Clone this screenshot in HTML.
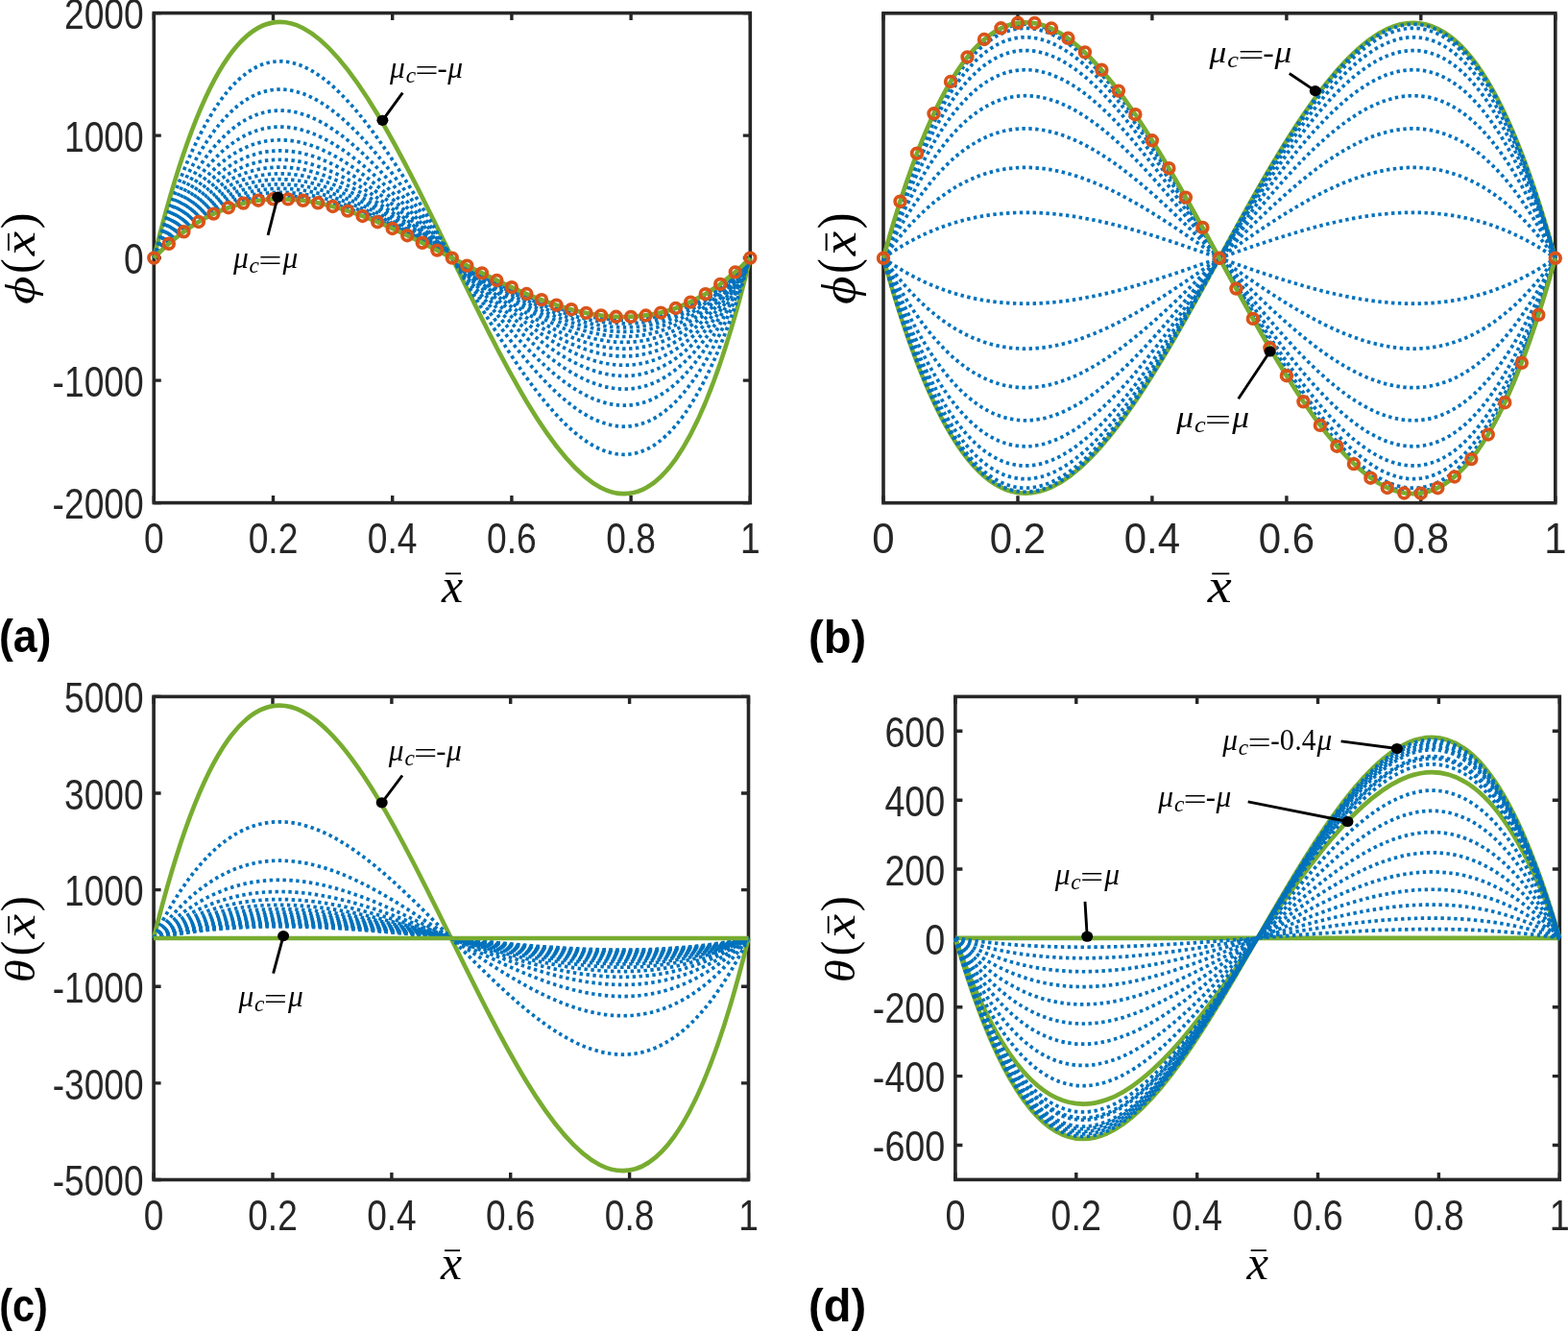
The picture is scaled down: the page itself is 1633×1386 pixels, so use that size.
<!DOCTYPE html>
<html><head><meta charset="utf-8"><title>Figure</title>
<style>
html,body{margin:0;padding:0;background:#fff;overflow:hidden}
svg{display:block}
.tk{font-family:"Liberation Sans",Arial,sans-serif;font-size:43.5px;fill:#262626}
.mx{font-family:"Liberation Serif",serif;font-style:italic;font-size:50px;fill:#000}
.ml{font-family:"Liberation Serif",serif;fill:#000}
.an{font-family:"Liberation Serif",serif;fill:#000}
.pl{font-family:"Liberation Sans",Arial,sans-serif;font-weight:bold;font-size:47.5px;fill:#000}
</style></head><body>
<svg width="1633" height="1386" viewBox="0 0 1633 1386">
<rect width="1633" height="1386" fill="#fff"/>
<path d="M160.3,523.6v-7.5M160.3,13.6v7.5M284.5,523.6v-7.5M284.5,13.6v7.5M408.7,523.6v-7.5M408.7,13.6v7.5M532.9,523.6v-7.5M532.9,13.6v7.5M657.1,523.6v-7.5M657.1,13.6v7.5M781.3,523.6v-7.5M781.3,13.6v7.5M160.3,523.6h7.5M781.3,523.6h-7.5M160.3,396.1h7.5M781.3,396.1h-7.5M160.3,268.6h7.5M781.3,268.6h-7.5M160.3,141.1h7.5M781.3,141.1h-7.5M160.3,13.6h7.5M781.3,13.6h-7.5" stroke="#262626" stroke-width="3.4" fill="none"/>
<rect x="160.3" y="13.6" width="621.0" height="510.0" fill="none" stroke="#262626" stroke-width="3.6"/>
<g fill="none" stroke="#77AC30" stroke-width="4.6">
<path d="M160.30,268.60C367.30,-582.50 574.30,1119.70 781.30,268.60" />
</g>
<g fill="none" stroke="#0072BD" stroke-width="3.7" stroke-dasharray="3.4 3.5">
<path d="M160.30,268.60C367.30,-440.65 574.30,977.85 781.30,268.60" />
<path d="M160.30,268.60C367.30,-339.33 574.30,876.53 781.30,268.60" />
<path d="M160.30,268.60C367.30,-263.34 574.30,800.54 781.30,268.60" />
<path d="M160.30,268.60C367.30,-204.24 574.30,741.44 781.30,268.60" />
<path d="M160.30,268.60C367.30,-156.95 574.30,694.15 781.30,268.60" />
<path d="M160.30,268.60C367.30,-118.27 574.30,655.47 781.30,268.60" />
<path d="M160.30,268.60C367.30,-86.03 574.30,623.23 781.30,268.60" />
<path d="M160.30,268.60C367.30,-58.75 574.30,595.95 781.30,268.60" />
<path d="M160.30,268.60C367.30,-35.37 574.30,572.57 781.30,268.60" />
<path d="M160.30,268.60C367.30,-15.10 574.30,552.30 781.30,268.60" />
<path d="M160.30,268.60C367.30,2.63 574.30,534.57 781.30,268.60" />
<path d="M160.30,268.60C367.30,18.28 574.30,518.92 781.30,268.60" />
<path d="M160.30,268.60C367.30,32.18 574.30,505.02 781.30,268.60" />
<path d="M160.30,268.60C367.30,44.63 574.30,492.57 781.30,268.60" />
</g>
<g fill="none" stroke="#77AC30" stroke-width="4.6">
<path d="M160.30,268.60C367.30,55.82 574.30,481.38 781.30,268.60" />
</g>
<g fill="none" stroke="#D95319" stroke-width="3.8">
<circle cx="160.3" cy="268.6" r="5.3"/>
<circle cx="175.8" cy="253.8" r="5.3"/>
<circle cx="191.4" cy="241.3" r="5.3"/>
<circle cx="206.9" cy="231.0" r="5.3"/>
<circle cx="222.4" cy="222.6" r="5.3"/>
<circle cx="237.9" cy="216.2" r="5.3"/>
<circle cx="253.4" cy="211.6" r="5.3"/>
<circle cx="269.0" cy="208.7" r="5.3"/>
<circle cx="284.5" cy="207.3" r="5.3"/>
<circle cx="300.0" cy="207.4" r="5.3"/>
<circle cx="315.6" cy="208.8" r="5.3"/>
<circle cx="331.1" cy="211.3" r="5.3"/>
<circle cx="346.6" cy="215.0" r="5.3"/>
<circle cx="362.1" cy="219.6" r="5.3"/>
<circle cx="377.6" cy="225.0" r="5.3"/>
<circle cx="393.2" cy="231.2" r="5.3"/>
<circle cx="408.7" cy="238.0" r="5.3"/>
<circle cx="424.2" cy="245.2" r="5.3"/>
<circle cx="439.8" cy="252.8" r="5.3"/>
<circle cx="455.3" cy="260.6" r="5.3"/>
<circle cx="470.8" cy="268.6" r="5.3"/>
<circle cx="486.3" cy="276.6" r="5.3"/>
<circle cx="501.9" cy="284.4" r="5.3"/>
<circle cx="517.4" cy="292.0" r="5.3"/>
<circle cx="532.9" cy="299.2" r="5.3"/>
<circle cx="548.4" cy="306.0" r="5.3"/>
<circle cx="564.0" cy="312.2" r="5.3"/>
<circle cx="579.5" cy="317.6" r="5.3"/>
<circle cx="595.0" cy="322.2" r="5.3"/>
<circle cx="610.5" cy="325.9" r="5.3"/>
<circle cx="626.0" cy="328.4" r="5.3"/>
<circle cx="641.6" cy="329.8" r="5.3"/>
<circle cx="657.1" cy="329.9" r="5.3"/>
<circle cx="672.6" cy="328.5" r="5.3"/>
<circle cx="688.2" cy="325.6" r="5.3"/>
<circle cx="703.7" cy="321.0" r="5.3"/>
<circle cx="719.2" cy="314.6" r="5.3"/>
<circle cx="734.7" cy="306.2" r="5.3"/>
<circle cx="750.2" cy="295.9" r="5.3"/>
<circle cx="765.8" cy="283.4" r="5.3"/>
<circle cx="781.3" cy="268.6" r="5.3"/>
</g>
<text class="tk" text-anchor="middle" transform="translate(160.3,575.8) scale(0.855,1)">0</text>
<text class="tk" text-anchor="middle" transform="translate(284.5,575.8) scale(0.855,1)">0.2</text>
<text class="tk" text-anchor="middle" transform="translate(408.7,575.8) scale(0.855,1)">0.4</text>
<text class="tk" text-anchor="middle" transform="translate(532.9,575.8) scale(0.855,1)">0.6</text>
<text class="tk" text-anchor="middle" transform="translate(657.1,575.8) scale(0.855,1)">0.8</text>
<text class="tk" text-anchor="middle" transform="translate(781.3,575.8) scale(0.855,1)">1</text>
<text class="tk" text-anchor="end" transform="translate(149.7,540.2) scale(0.855,1)">-2000</text>
<text class="tk" text-anchor="end" transform="translate(149.7,412.7) scale(0.855,1)">-1000</text>
<text class="tk" text-anchor="end" transform="translate(149.7,285.2) scale(0.855,1)">0</text>
<text class="tk" text-anchor="end" transform="translate(149.7,157.7) scale(0.855,1)">1000</text>
<text class="tk" text-anchor="end" transform="translate(149.7,30.2) scale(0.855,1)">2000</text>
<text class="mx" transform="translate(460.0,627.0) scale(1.000,1)">x</text>
<line x1="464.0" x2="480.0" y1="597.3" y2="597.3" stroke="#000" stroke-width="1.8"/>
<path d="M920.0,523.7v-7.5M920.0,13.8v7.5M1060.0,523.7v-7.5M1060.0,13.8v7.5M1199.9,523.7v-7.5M1199.9,13.8v7.5M1339.9,523.7v-7.5M1339.9,13.8v7.5M1479.8,523.7v-7.5M1479.8,13.8v7.5M1619.8,523.7v-7.5M1619.8,13.8v7.5" stroke="#262626" stroke-width="3.4" fill="none"/>
<rect x="920.0" y="13.8" width="699.8" height="509.9" fill="none" stroke="#262626" stroke-width="3.6"/>
<g fill="none" stroke="#77AC30" stroke-width="4.6">
<path d="M920.00,268.75C1153.27,1117.48 1386.53,-579.98 1619.80,268.75" />
</g>
<g fill="none" stroke="#0072BD" stroke-width="3.7" stroke-dasharray="3.4 3.5">
<path d="M920.00,268.75C1153.27,104.48 1386.53,433.02 1619.80,268.75" />
<path d="M920.00,268.75C1153.27,-58.02 1386.53,595.52 1619.80,268.75" />
<path d="M920.00,268.75C1153.27,-198.45 1386.53,735.95 1619.80,268.75" />
<path d="M920.00,268.75C1153.27,-316.79 1386.53,854.29 1619.80,268.75" />
<path d="M920.00,268.75C1153.27,-410.41 1386.53,947.91 1619.80,268.75" />
<path d="M920.00,268.75C1153.27,-480.18 1386.53,1017.68 1619.80,268.75" />
<path d="M920.00,268.75C1153.27,-527.87 1386.53,1065.37 1619.80,268.75" />
<path d="M920.00,268.75C1153.27,-560.55 1386.53,1098.05 1619.80,268.75" />
<path d="M920.00,268.75C1153.27,-574.68 1386.53,1112.18 1619.80,268.75" />
<path d="M920.00,268.75C1153.27,433.02 1386.53,104.48 1619.80,268.75" />
<path d="M920.00,268.75C1153.27,595.52 1386.53,-58.02 1619.80,268.75" />
<path d="M920.00,268.75C1153.27,735.95 1386.53,-198.45 1619.80,268.75" />
<path d="M920.00,268.75C1153.27,854.29 1386.53,-316.79 1619.80,268.75" />
<path d="M920.00,268.75C1153.27,947.91 1386.53,-410.41 1619.80,268.75" />
<path d="M920.00,268.75C1153.27,1017.68 1386.53,-480.18 1619.80,268.75" />
<path d="M920.00,268.75C1153.27,1065.37 1386.53,-527.87 1619.80,268.75" />
<path d="M920.00,268.75C1153.27,1098.05 1386.53,-560.55 1619.80,268.75" />
<path d="M920.00,268.75C1153.27,1112.18 1386.53,-574.68 1619.80,268.75" />
</g>
<g fill="none" stroke="#77AC30" stroke-width="4.6">
<path d="M920.00,268.75C1153.27,-581.75 1386.53,1119.25 1619.80,268.75" />
</g>
<g fill="none" stroke="#D95319" stroke-width="3.8">
<circle cx="920.0" cy="268.8" r="5.3"/>
<circle cx="937.5" cy="209.7" r="5.3"/>
<circle cx="955.0" cy="159.7" r="5.3"/>
<circle cx="972.5" cy="118.3" r="5.3"/>
<circle cx="990.0" cy="85.0" r="5.3"/>
<circle cx="1007.5" cy="59.4" r="5.3"/>
<circle cx="1025.0" cy="41.0" r="5.3"/>
<circle cx="1042.5" cy="29.3" r="5.3"/>
<circle cx="1060.0" cy="23.8" r="5.3"/>
<circle cx="1077.5" cy="24.0" r="5.3"/>
<circle cx="1095.0" cy="29.5" r="5.3"/>
<circle cx="1112.4" cy="39.8" r="5.3"/>
<circle cx="1129.9" cy="54.4" r="5.3"/>
<circle cx="1147.4" cy="72.8" r="5.3"/>
<circle cx="1164.9" cy="94.6" r="5.3"/>
<circle cx="1182.4" cy="119.2" r="5.3"/>
<circle cx="1199.9" cy="146.3" r="5.3"/>
<circle cx="1217.4" cy="175.2" r="5.3"/>
<circle cx="1234.9" cy="205.6" r="5.3"/>
<circle cx="1252.4" cy="236.9" r="5.3"/>
<circle cx="1269.9" cy="268.8" r="5.3"/>
<circle cx="1287.4" cy="300.6" r="5.3"/>
<circle cx="1304.9" cy="331.9" r="5.3"/>
<circle cx="1322.4" cy="362.3" r="5.3"/>
<circle cx="1339.9" cy="391.2" r="5.3"/>
<circle cx="1357.4" cy="418.3" r="5.3"/>
<circle cx="1374.9" cy="442.9" r="5.3"/>
<circle cx="1392.4" cy="464.7" r="5.3"/>
<circle cx="1409.9" cy="483.1" r="5.3"/>
<circle cx="1427.4" cy="497.7" r="5.3"/>
<circle cx="1444.8" cy="508.0" r="5.3"/>
<circle cx="1462.3" cy="513.5" r="5.3"/>
<circle cx="1479.8" cy="513.7" r="5.3"/>
<circle cx="1497.3" cy="508.2" r="5.3"/>
<circle cx="1514.8" cy="496.5" r="5.3"/>
<circle cx="1532.3" cy="478.1" r="5.3"/>
<circle cx="1549.8" cy="452.5" r="5.3"/>
<circle cx="1567.3" cy="419.2" r="5.3"/>
<circle cx="1584.8" cy="377.8" r="5.3"/>
<circle cx="1602.3" cy="327.8" r="5.3"/>
<circle cx="1619.8" cy="268.8" r="5.3"/>
</g>
<text class="tk" text-anchor="middle" transform="translate(920.0,575.9) scale(0.964,1)">0</text>
<text class="tk" text-anchor="middle" transform="translate(1060.0,575.9) scale(0.964,1)">0.2</text>
<text class="tk" text-anchor="middle" transform="translate(1199.9,575.9) scale(0.964,1)">0.4</text>
<text class="tk" text-anchor="middle" transform="translate(1339.9,575.9) scale(0.964,1)">0.6</text>
<text class="tk" text-anchor="middle" transform="translate(1479.8,575.9) scale(0.964,1)">0.8</text>
<text class="tk" text-anchor="middle" transform="translate(1619.8,575.9) scale(0.964,1)">1</text>
<text class="mx" transform="translate(1257.7,627.1) scale(1.127,1)">x</text>
<line x1="1262.2" x2="1280.3" y1="597.4" y2="597.4" stroke="#000" stroke-width="1.8"/>
<path d="M160.1,1228.5v-7.5M160.1,725.4v7.5M284.0,1228.5v-7.5M284.0,725.4v7.5M407.9,1228.5v-7.5M407.9,725.4v7.5M531.7,1228.5v-7.5M531.7,725.4v7.5M655.6,1228.5v-7.5M655.6,725.4v7.5M779.5,1228.5v-7.5M779.5,725.4v7.5M160.1,1228.5h7.5M779.5,1228.5h-7.5M160.1,1127.9h7.5M779.5,1127.9h-7.5M160.1,1027.3h7.5M779.5,1027.3h-7.5M160.1,926.6h7.5M779.5,926.6h-7.5M160.1,826.0h7.5M779.5,826.0h-7.5M160.1,725.4h7.5M779.5,725.4h-7.5" stroke="#262626" stroke-width="3.4" fill="none"/>
<rect x="160.1" y="725.4" width="619.4" height="503.1" fill="none" stroke="#262626" stroke-width="3.6"/>
<g fill="none" stroke="#77AC30" stroke-width="4.6">
<path d="M160.10,976.95C366.57,137.45 573.03,1816.45 779.50,976.95" />
</g>
<g fill="none" stroke="#0072BD" stroke-width="3.7" stroke-dasharray="3.4 3.5">
<path d="M160.10,976.95C366.57,557.20 573.03,1396.70 779.50,976.95" />
<path d="M160.10,976.95C366.57,697.12 573.03,1256.78 779.50,976.95" />
<path d="M160.10,976.95C366.57,767.07 573.03,1186.83 779.50,976.95" />
<path d="M160.10,976.95C366.57,809.05 573.03,1144.85 779.50,976.95" />
<path d="M160.10,976.95C366.57,837.03 573.03,1116.87 779.50,976.95" />
<path d="M160.10,976.95C366.57,857.02 573.03,1096.88 779.50,976.95" />
<path d="M160.10,976.95C366.57,872.01 573.03,1081.89 779.50,976.95" />
<path d="M160.10,976.95C366.57,883.67 573.03,1070.23 779.50,976.95" />
<path d="M160.10,976.95C366.57,893.00 573.03,1060.90 779.50,976.95" />
<path d="M160.10,976.95C366.57,900.63 573.03,1053.27 779.50,976.95" />
<path d="M160.10,976.95C366.57,906.99 573.03,1046.91 779.50,976.95" />
<path d="M160.10,976.95C366.57,912.37 573.03,1041.53 779.50,976.95" />
<path d="M160.10,976.95C366.57,916.99 573.03,1036.91 779.50,976.95" />
<path d="M160.10,976.95C366.57,920.98 573.03,1032.92 779.50,976.95" />
<path d="M160.10,976.95C366.57,924.48 573.03,1029.42 779.50,976.95" />
<path d="M160.10,976.95C366.57,927.57 573.03,1026.33 779.50,976.95" />
<path d="M160.10,976.95C366.57,930.31 573.03,1023.59 779.50,976.95" />
<path d="M160.10,976.95C366.57,932.77 573.03,1021.13 779.50,976.95" />
<path d="M160.10,976.95C366.57,934.97 573.03,1018.93 779.50,976.95" />
</g>
<g fill="none" stroke="#77AC30" stroke-width="4.6">
<path d="M160.10,976.95C366.57,976.95 573.03,976.95 779.50,976.95" />
</g>
<text class="tk" text-anchor="middle" transform="translate(160.1,1280.7) scale(0.852,1)">0</text>
<text class="tk" text-anchor="middle" transform="translate(284.0,1280.7) scale(0.852,1)">0.2</text>
<text class="tk" text-anchor="middle" transform="translate(407.9,1280.7) scale(0.852,1)">0.4</text>
<text class="tk" text-anchor="middle" transform="translate(531.7,1280.7) scale(0.852,1)">0.6</text>
<text class="tk" text-anchor="middle" transform="translate(655.6,1280.7) scale(0.852,1)">0.8</text>
<text class="tk" text-anchor="middle" transform="translate(779.5,1280.7) scale(0.852,1)">1</text>
<text class="tk" text-anchor="end" transform="translate(149.5,1245.1) scale(0.852,1)">-5000</text>
<text class="tk" text-anchor="end" transform="translate(149.5,1144.5) scale(0.852,1)">-3000</text>
<text class="tk" text-anchor="end" transform="translate(149.5,1043.9) scale(0.852,1)">-1000</text>
<text class="tk" text-anchor="end" transform="translate(149.5,943.2) scale(0.852,1)">1000</text>
<text class="tk" text-anchor="end" transform="translate(149.5,842.6) scale(0.852,1)">3000</text>
<text class="tk" text-anchor="end" transform="translate(149.5,742.0) scale(0.852,1)">5000</text>
<text class="mx" transform="translate(459.0,1331.9) scale(0.997,1)">x</text>
<line x1="463.0" x2="479.0" y1="1302.2" y2="1302.2" stroke="#000" stroke-width="1.8"/>
<path d="M994.9,1228.4v-7.5M994.9,725.4v7.5M1120.8,1228.4v-7.5M1120.8,725.4v7.5M1246.7,1228.4v-7.5M1246.7,725.4v7.5M1372.5,1228.4v-7.5M1372.5,725.4v7.5M1498.4,1228.4v-7.5M1498.4,725.4v7.5M1624.3,1228.4v-7.5M1624.3,725.4v7.5M994.9,1192.5h7.5M1624.3,1192.5h-7.5M994.9,1120.6h7.5M1624.3,1120.6h-7.5M994.9,1048.8h7.5M1624.3,1048.8h-7.5M994.9,976.9h7.5M1624.3,976.9h-7.5M994.9,905.0h7.5M1624.3,905.0h-7.5M994.9,833.2h7.5M1624.3,833.2h-7.5M994.9,761.3h7.5M1624.3,761.3h-7.5" stroke="#262626" stroke-width="3.4" fill="none"/>
<rect x="994.9" y="725.4" width="629.4" height="503.0" fill="none" stroke="#262626" stroke-width="3.6"/>
<g fill="none" stroke="#77AC30" stroke-width="4.6">
<path d="M994.90,976.90C1204.70,1701.26 1414.50,252.54 1624.30,976.90" />
<path d="M994.90,976.90C1204.70,1575.55 1414.50,378.25 1624.30,976.90" />
<path d="M994.90,976.90C1204.70,976.90 1414.50,976.90 1624.30,976.90" />
</g>
<g fill="none" stroke="#0072BD" stroke-width="3.7" stroke-dasharray="3.4 3.5">
<path d="M994.90,976.90C1204.70,1692.55 1414.50,261.25 1624.30,976.90" />
<path d="M994.90,976.90C1204.70,1683.83 1414.50,269.97 1624.30,976.90" />
<path d="M994.90,976.90C1204.70,1675.12 1414.50,278.68 1624.30,976.90" />
<path d="M994.90,976.90C1204.70,1665.17 1414.50,288.63 1624.30,976.90" />
<path d="M994.90,976.90C1204.70,1656.45 1414.50,297.35 1624.30,976.90" />
<path d="M994.90,976.90C1204.70,1632.81 1414.50,320.99 1624.30,976.90" />
<path d="M994.90,976.90C1204.70,1625.34 1414.50,328.46 1624.30,976.90" />
<path d="M994.90,976.90C1204.70,1604.18 1414.50,349.62 1624.30,976.90" />
<path d="M994.90,976.90C1204.70,1509.59 1414.50,444.21 1624.30,976.90" />
<path d="M994.90,976.90C1204.70,1436.16 1414.50,517.64 1624.30,976.90" />
<path d="M994.90,976.90C1204.70,1358.99 1414.50,594.81 1624.30,976.90" />
<path d="M994.90,976.90C1204.70,1285.56 1414.50,668.24 1624.30,976.90" />
<path d="M994.90,976.90C1204.70,1215.86 1414.50,737.94 1624.30,976.90" />
<path d="M994.90,976.90C1204.70,1152.39 1414.50,801.41 1624.30,976.90" />
<path d="M994.90,976.90C1204.70,1097.63 1414.50,856.17 1624.30,976.90" />
<path d="M994.90,976.90C1204.70,1049.09 1414.50,904.71 1624.30,976.90" />
<path d="M994.90,976.90C1204.70,1009.26 1414.50,944.54 1624.30,976.90" />
</g>
<text class="tk" text-anchor="middle" transform="translate(994.9,1280.6) scale(0.867,1)">0</text>
<text class="tk" text-anchor="middle" transform="translate(1120.8,1280.6) scale(0.867,1)">0.2</text>
<text class="tk" text-anchor="middle" transform="translate(1246.7,1280.6) scale(0.867,1)">0.4</text>
<text class="tk" text-anchor="middle" transform="translate(1372.5,1280.6) scale(0.867,1)">0.6</text>
<text class="tk" text-anchor="middle" transform="translate(1498.4,1280.6) scale(0.867,1)">0.8</text>
<text class="tk" text-anchor="middle" transform="translate(1624.3,1280.6) scale(0.867,1)">1</text>
<text class="tk" text-anchor="end" transform="translate(984.3,1209.1) scale(0.867,1)">-600</text>
<text class="tk" text-anchor="end" transform="translate(984.3,1137.2) scale(0.867,1)">-400</text>
<text class="tk" text-anchor="end" transform="translate(984.3,1065.4) scale(0.867,1)">-200</text>
<text class="tk" text-anchor="end" transform="translate(984.3,993.5) scale(0.867,1)">0</text>
<text class="tk" text-anchor="end" transform="translate(984.3,921.6) scale(0.867,1)">200</text>
<text class="tk" text-anchor="end" transform="translate(984.3,849.8) scale(0.867,1)">400</text>
<text class="tk" text-anchor="end" transform="translate(984.3,777.9) scale(0.867,1)">600</text>
<text class="mx" transform="translate(1298.6,1331.8) scale(1.014,1)">x</text>
<line x1="1302.7" x2="1318.9" y1="1302.1" y2="1302.1" stroke="#000" stroke-width="1.8"/>
<g class="ml" transform="translate(36.0,0) scale(1.000,1) rotate(-90)"><text transform="translate(-317.0,0) scale(1.270,1)" font-size="45" font-style="italic">ϕ</text><text transform="translate(-284.7,0) scale(0.931,1)" font-size="50">(</text><text transform="translate(-266.2,0) scale(1.240,1)" font-size="46" font-style="italic">x</text><text transform="translate(-238.4,0) scale(1.017,1)" font-size="50">)</text><line x1="-261.0" x2="-243.0" y1="-27.1" y2="-27.1" stroke="#000" stroke-width="1.8"/></g>
<g class="ml" transform="translate(891.0,0) scale(1.120,1) rotate(-90)"><text transform="translate(-317.0,0) scale(1.270,1)" font-size="45" font-style="italic">ϕ</text><text transform="translate(-284.7,0) scale(0.931,1)" font-size="50">(</text><text transform="translate(-266.2,0) scale(1.240,1)" font-size="46" font-style="italic">x</text><text transform="translate(-238.4,0) scale(1.017,1)" font-size="50">)</text><line x1="-261.0" x2="-243.0" y1="-27.1" y2="-27.1" stroke="#000" stroke-width="1.8"/></g>
<g class="ml" transform="translate(36.0,0) scale(1.000,1) rotate(-90)"><text transform="translate(-1023.3,0) scale(1.082,1)" font-size="45" font-style="italic">θ</text><text transform="translate(-995.2,0) scale(0.931,1)" font-size="50">(</text><text transform="translate(-977.2,0) scale(1.240,1)" font-size="46" font-style="italic">x</text><text transform="translate(-949.3,0) scale(0.967,1)" font-size="50">)</text><line x1="-972.0" x2="-954.0" y1="-26.9" y2="-26.9" stroke="#000" stroke-width="1.8"/></g>
<g class="ml" transform="translate(890.0,0) scale(1.000,1) rotate(-90)"><text transform="translate(-1023.3,0) scale(1.082,1)" font-size="45" font-style="italic">θ</text><text transform="translate(-995.2,0) scale(0.931,1)" font-size="50">(</text><text transform="translate(-977.2,0) scale(1.240,1)" font-size="46" font-style="italic">x</text><text transform="translate(-949.3,0) scale(0.967,1)" font-size="50">)</text><line x1="-972.0" x2="-954.0" y1="-27.3" y2="-27.3" stroke="#000" stroke-width="1.8"/></g>
<g class="an"><text transform="translate(406.10,81.30) scale(1.000,1)" font-size="31.5" font-style="italic">μ</text><text transform="translate(422.72,86.30) scale(0.978,1)" font-size="24" font-style="italic">c</text><text transform="translate(432.36,84.00) scale(1.371,1)" font-size="31.5">=</text><text transform="translate(455.52,81.30) scale(0.975,1)" font-size="31.5">-</text><text transform="translate(466.30,81.30) scale(1.000,1)" font-size="31.5" font-style="italic">μ</text></g>
<line x1="398.4" y1="125.3" x2="419.3" y2="96.7" stroke="#000" stroke-width="2.9"/>
<ellipse cx="398.4" cy="125.3" rx="6" ry="5.6" fill="#000"/>
<g class="an"><text transform="translate(243.00,279.10) scale(1.000,1)" font-size="31.5" font-style="italic">μ</text><text transform="translate(259.62,284.10) scale(0.978,1)" font-size="24" font-style="italic">c</text><text transform="translate(269.26,281.80) scale(1.371,1)" font-size="31.5">=</text><text transform="translate(294.50,279.10) scale(1.000,1)" font-size="31.5" font-style="italic">μ</text></g>
<line x1="289.2" y1="205.2" x2="279.1" y2="244.8" stroke="#000" stroke-width="2.9"/>
<ellipse cx="289.2" cy="205.2" rx="6" ry="5.6" fill="#000"/>
<g class="an"><text transform="translate(1259.60,65.40) scale(1.127,1)" font-size="31.5" font-style="italic">μ</text><text transform="translate(1278.33,70.40) scale(1.102,1)" font-size="24" font-style="italic">c</text><text transform="translate(1289.19,68.10) scale(1.546,1)" font-size="31.5">=</text><text transform="translate(1315.30,65.40) scale(1.099,1)" font-size="31.5">-</text><text transform="translate(1327.45,65.40) scale(1.127,1)" font-size="31.5" font-style="italic">μ</text></g>
<line x1="1369.8" y1="94.6" x2="1342.8" y2="76.5" stroke="#000" stroke-width="2.9"/>
<ellipse cx="1369.8" cy="94.6" rx="6" ry="5.6" fill="#000"/>
<g class="an"><text transform="translate(1225.20,445.30) scale(1.127,1)" font-size="31.5" font-style="italic">μ</text><text transform="translate(1243.93,450.30) scale(1.102,1)" font-size="24" font-style="italic">c</text><text transform="translate(1254.79,448.00) scale(1.546,1)" font-size="31.5">=</text><text transform="translate(1283.24,445.30) scale(1.127,1)" font-size="31.5" font-style="italic">μ</text></g>
<line x1="1322.6" y1="366.0" x2="1289.7" y2="415.3" stroke="#000" stroke-width="2.9"/>
<ellipse cx="1322.6" cy="366.0" rx="6" ry="5.6" fill="#000"/>
<g class="an"><text transform="translate(404.80,792.00) scale(1.000,1)" font-size="31.5" font-style="italic">μ</text><text transform="translate(421.42,797.00) scale(0.978,1)" font-size="24" font-style="italic">c</text><text transform="translate(431.06,794.70) scale(1.371,1)" font-size="31.5">=</text><text transform="translate(454.22,792.00) scale(0.975,1)" font-size="31.5">-</text><text transform="translate(465.00,792.00) scale(1.000,1)" font-size="31.5" font-style="italic">μ</text></g>
<line x1="397.7" y1="835.8" x2="419.0" y2="807.5" stroke="#000" stroke-width="2.9"/>
<ellipse cx="397.7" cy="835.8" rx="6" ry="5.6" fill="#000"/>
<g class="an"><text transform="translate(248.50,1047.80) scale(1.000,1)" font-size="31.5" font-style="italic">μ</text><text transform="translate(265.12,1052.80) scale(0.978,1)" font-size="24" font-style="italic">c</text><text transform="translate(274.76,1050.50) scale(1.371,1)" font-size="31.5">=</text><text transform="translate(300.00,1047.80) scale(1.000,1)" font-size="31.5" font-style="italic">μ</text></g>
<line x1="295.1" y1="974.6" x2="284.6" y2="1013.6" stroke="#000" stroke-width="2.9"/>
<ellipse cx="295.1" cy="974.6" rx="6" ry="5.6" fill="#000"/>
<g class="an"><text transform="translate(1273.20,780.90) scale(1.000,1)" font-size="31.5" font-style="italic">μ</text><text transform="translate(1289.82,785.90) scale(0.978,1)" font-size="24" font-style="italic">c</text><text transform="translate(1299.46,783.60) scale(1.371,1)" font-size="31.5">=</text><text transform="translate(1323.20,780.90) scale(0.900,1)" font-size="31.5">-</text><text transform="translate(1332.74,780.90) scale(0.964,1)" font-size="31.5">0</text><text transform="translate(1348.60,780.90) scale(0.900,1)" font-size="31.5">.</text><text transform="translate(1355.86,780.90) scale(0.936,1)" font-size="31.5">4</text><text transform="translate(1371.50,780.90) scale(1.000,1)" font-size="31.5" font-style="italic">μ</text></g>
<line x1="1454.9" y1="779.5" x2="1396.6" y2="771.9" stroke="#000" stroke-width="2.9"/>
<ellipse cx="1454.9" cy="779.5" rx="6" ry="5.6" fill="#000"/>
<g class="an"><text transform="translate(1206.30,840.20) scale(1.000,1)" font-size="31.5" font-style="italic">μ</text><text transform="translate(1222.92,845.20) scale(0.978,1)" font-size="24" font-style="italic">c</text><text transform="translate(1232.56,842.90) scale(1.371,1)" font-size="31.5">=</text><text transform="translate(1255.73,840.20) scale(0.975,1)" font-size="31.5">-</text><text transform="translate(1266.50,840.20) scale(1.000,1)" font-size="31.5" font-style="italic">μ</text></g>
<line x1="1403.5" y1="855.5" x2="1299.7" y2="834.9" stroke="#000" stroke-width="2.9"/>
<ellipse cx="1403.5" cy="855.5" rx="6" ry="5.6" fill="#000"/>
<g class="an"><text transform="translate(1098.70,921.30) scale(1.000,1)" font-size="31.5" font-style="italic">μ</text><text transform="translate(1115.32,926.30) scale(0.978,1)" font-size="24" font-style="italic">c</text><text transform="translate(1124.96,924.00) scale(1.371,1)" font-size="31.5">=</text><text transform="translate(1150.20,921.30) scale(1.000,1)" font-size="31.5" font-style="italic">μ</text></g>
<line x1="1132.2" y1="975.2" x2="1130.0" y2="938.9" stroke="#000" stroke-width="2.9"/>
<ellipse cx="1132.2" cy="975.2" rx="6" ry="5.6" fill="#000"/>
<text class="pl" transform="translate(-1.1,679.1) scale(0.94,1)">(a)</text>
<text class="pl" transform="translate(842.1,679.5) scale(0.99,1)">(b)</text>
<text class="pl" transform="translate(-0.8,1375.8) scale(0.874,1)">(c)</text>
<text class="pl" transform="translate(842.1,1375.8) scale(0.99,1)">(d)</text>
</svg></body></html>
